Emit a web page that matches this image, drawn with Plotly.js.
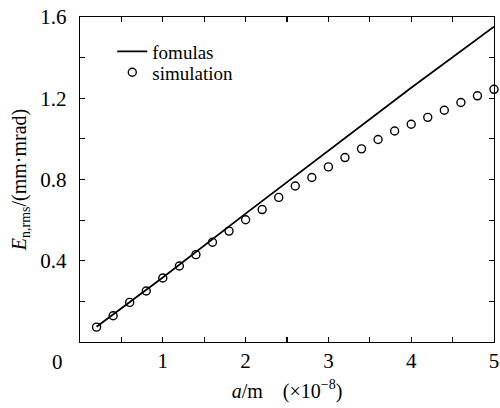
<!DOCTYPE html>
<html>
<head>
<meta charset="utf-8">
<script src="https://cdn.plot.ly/plotly-3.0.1.min.js"></script>
<style>html,body{margin:0;padding:0;background:#fff;}#chart{width:500px;height:408px;}</style>
</head>
<body>
<div id="chart"></div>
<script>
// formula curve samples
const formulaA = [0.2, 1, 2, 3, 4, 5];
const formulaE = [0.075, 0.318, 0.632, 0.942, 1.252, 1.552];
// simulation points
const simA = [0.2, 0.4, 0.6, 0.8, 1.0, 1.2, 1.4, 1.6, 1.8, 2.0, 2.2, 2.4, 2.6, 2.8, 3.0, 3.2, 3.4, 3.6, 3.8, 4.0, 4.2, 4.4, 4.6, 4.8, 5.0];
const simE = [0.073, 0.129, 0.195, 0.251, 0.315, 0.374, 0.430, 0.491, 0.546, 0.602, 0.652, 0.712, 0.768, 0.810, 0.862, 0.908, 0.951, 0.997, 1.039, 1.072, 1.106, 1.141, 1.179, 1.212, 1.244];
// ticks
const xTickVals = [0, 0.5, 1, 1.5, 2, 2.5, 3, 3.5, 4, 4.5, 5];
const xTickText = ["", "", "1", "", "2", "", "3", "", "4", "", "5"];
const yTickVals = [0, 0.2, 0.4, 0.6, 0.8, 1.0, 1.2, 1.4, 1.6];
const yTickText = ["", "", "0.4", "", "0.8", "", "1.2", "", "1.6"];
const seriesNames = ["fomulas", "simulation"];

const FONT = "Liberation Serif, Times New Roman, serif";
const FS = 20;

const traces = [
  {x: formulaA, y: formulaE, mode: "lines", name: seriesNames[0], legend: "legend",
   line: {color: "#000", width: 1.8}},
  {x: simA, y: simE, mode: "markers", name: seriesNames[1], legend: "legend2",
   marker: {symbol: "circle-open", size: 8, color: "#000", line: {width: 1.4, color: "#000"}},
   cliponaxis: false}
];

const axisCommon = {
  showgrid: false, zeroline: false, showline: true, linecolor: "#000", linewidth: 1.2,
  mirror: "ticks", ticks: "inside", ticklen: 5, tickwidth: 1.2, tickcolor: "#000",
  tickfont: {family: FONT, size: 21, color: "#000"}, tickmode: "array"
};

const legendCommon = {xanchor: "left", yanchor: "top", bgcolor: "rgba(0,0,0,0)",
  font: {family: FONT, size: 19, color: "#000"}, tracegroupgap: 0};

const layout = {
  width: 500, height: 408,
  margin: {l: 80, r: 6, t: 17, b: 66},
  paper_bgcolor: "#fff", plot_bgcolor: "#fff",
  font: {family: FONT, color: "#000"},
  showlegend: true,
  legend: Object.assign({}, legendCommon, {x: 0.078, y: 0.952}),
  legend2: Object.assign({}, legendCommon, {x: 0.078, y: 0.888}),
  xaxis: Object.assign({}, axisCommon, {
    range: [0, 5], tickvals: xTickVals, ticktext: xTickText, ticklabelstandoff: 0,
    title: {text: "<i>a</i>/m\u00a0\u00a0\u00a0\u00a0(×10<sup>−8</sup>)", font: {family: FONT, size: FS, color: "#000"}, standoff: 11}
  }),
  yaxis: Object.assign({}, axisCommon, {
    range: [0, 1.6], tickvals: yTickVals, ticktext: yTickText, ticklabelstandoff: 8,
    title: {text: "<i>E</i><sub>n,rms</sub>/(mm·mrad)", font: {family: FONT, size: FS, color: "#000"}, standoff: 8}
  }),
  annotations: [
    {text: "0", xref: "paper", yref: "paper", x: 0, y: 0, xanchor: "center", yanchor: "middle",
     xshift: -23, yshift: -20, showarrow: false, font: {family: FONT, size: 21, color: "#000"}}
  ]
};

Plotly.newPlot("chart", traces, layout, {displayModeBar: false, staticPlot: true});
</script>
</body>
</html>
